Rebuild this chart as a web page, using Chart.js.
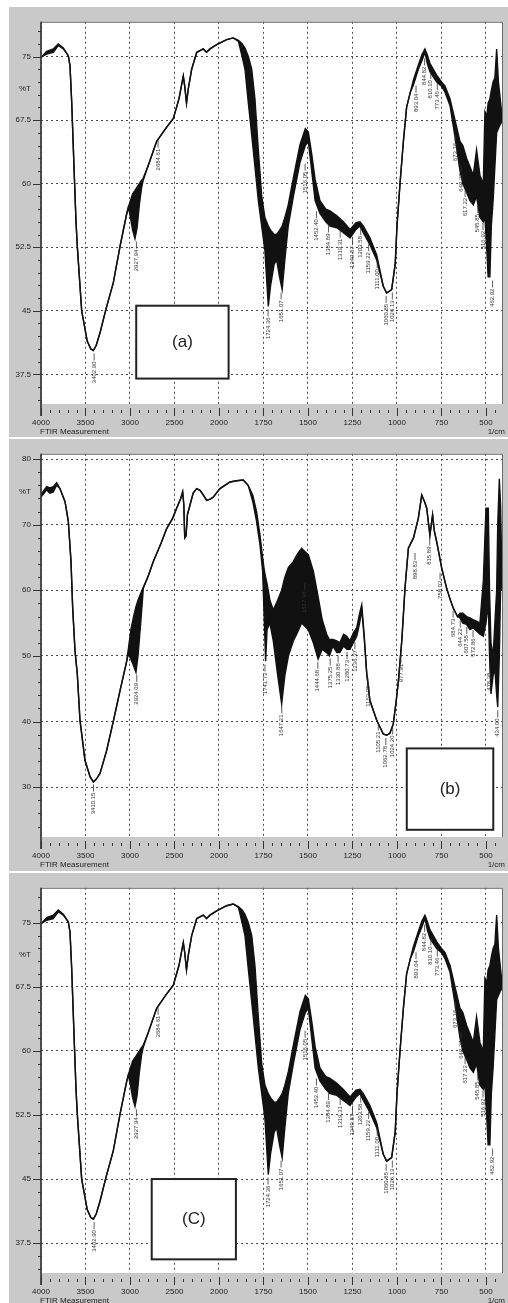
<!DOCTYPE html>
<html>
<head>
<meta charset="utf-8">
<script src="https://cdn.jsdelivr.net/npm/chart.js@4.4.1/dist/chart.umd.min.js"></script>
<style>
  html, body { margin: 0; padding: 0; background: #fff; }
  body { width: 508px; height: 1303px; position: relative; overflow: hidden; }
  canvas { position: absolute; left: 9px; background: #c9c9c9; }
  #ftirA { top: 7px; }
  #ftirB { top: 439px; }
  #ftirC { top: 873px; }
</style>
</head>
<body>
<canvas id="ftirA" width="499" height="430"></canvas>
<canvas id="ftirB" width="499" height="432"></canvas>
<canvas id="ftirC" width="499" height="430"></canvas>
<script>
// wavenumber axis: 4000-2000 at half scale, 2000-410 at full scale
const xTickWaves = [4000, 3500, 3000, 2500, 2000, 1750, 1500, 1250, 1000, 750, 500];

// spectrum (a) / (C): wavenumber, lower trace, upper trace (noise fills between)
const waveA = [4000, 3936, 3862, 3806, 3749, 3693, 3674, 3655, 3629, 3607, 3592, 3543, 3480, 3440, 3412, 3380, 3337, 3270, 3188, 3112, 3040,
  3019, 2995, 2970, 2944, 2920, 2895, 2870, 2854, 2800, 2700, 2600, 2513, 2450, 2401, 2385, 2365, 2345, 2307, 2250, 2176, 2140, 2101, 2026,
  1957, 1920, 1891, 1870, 1854, 1835, 1816, 1798, 1779, 1760, 1742, 1723, 1710, 1690, 1676, 1660, 1645, 1630, 1611, 1582, 1545, 1515,
  1498, 1479, 1460, 1433, 1400, 1376, 1338, 1301, 1264, 1230, 1208, 1189, 1152, 1114, 1077, 1058, 1030, 1010, 1000, 983, 964, 946, 925,
  908, 880, 860, 843, 830, 815, 777, 750, 730, 702, 674, 646, 630, 609, 590, 571, 553, 534, 515, 506, 495, 488, 478, 470, 460, 450, 440,
  430, 420, 410];
const lowA = [74.9, 75.3, 75.5, 76.3, 75.9, 75.1, 73.9, 69.6, 61.9, 55.6, 52.6, 45.0, 41.4, 40.5, 40.3, 40.9, 42.4, 45.2, 48.3, 52.6, 56.3,
  57.2, 56.0, 54.5, 53.5, 54.8, 57.5, 59.5, 60.3, 62.0, 65.0, 66.5, 67.7, 70.0, 72.7, 71.5, 69.5, 71.2, 73.5, 75.5, 75.9, 75.5, 75.9, 76.4,
  77.0, 77.2, 76.8, 75.0, 73.5, 69.5, 65.7, 62.0, 58.0, 55.0, 52.1, 45.5, 48.0, 50.5, 51.0, 49.0, 47.5, 51.0, 55.0, 58.5, 62.5, 64.5,
  65.0, 61.5, 58.0, 56.5, 55.5, 55.0, 54.8, 54.2, 53.6, 54.6, 55.0, 54.2, 52.8, 51.0, 47.9, 47.1, 47.5, 50.5, 55.0, 60.0, 65.0, 69.0, 70.8,
  71.6, 73.5, 74.5, 75.5, 74.2, 73.2, 72.0, 71.5, 70.8, 69.2, 65.5, 61.5, 60.0, 59.0, 58.0, 57.5, 58.5, 56.0, 55.5, 56.0, 52.0, 49.0, 49.0,
  55.0, 58.0, 62.0, 66.0, 66.5, 67.0, 67.3];
const highA = [74.9, 75.6, 75.9, 76.5, 76.0, 75.1, 73.9, 69.6, 61.9, 55.6, 52.6, 45.0, 41.4, 40.5, 40.3, 40.9, 42.4, 45.2, 48.3, 52.6, 56.3,
  57.2, 58.0, 58.8, 59.2, 59.6, 60.0, 60.4, 60.6, 62.0, 65.0, 66.5, 67.7, 70.0, 72.7, 71.5, 69.5, 71.2, 73.5, 75.5, 75.9, 75.5, 75.9, 76.4,
  77.0, 77.2, 76.9, 76.5, 76.0, 75.0, 73.5, 70.0, 64.0, 58.5, 56.0, 55.0, 54.5, 54.0, 54.0, 54.5, 55.0, 56.0, 57.5, 60.7, 64.6, 66.5,
  66.1, 63.5, 60.5, 58.0, 57.0, 56.8, 56.2, 55.5, 54.6, 55.4, 55.5, 55.0, 53.6, 51.6, 47.9, 47.1, 47.5, 50.5, 55.0, 60.0, 65.0, 69.0, 70.8,
  72.2, 74.0, 75.2, 75.9, 75.2, 74.2, 72.8, 72.0, 71.5, 70.0, 67.5, 65.0, 64.5, 63.0, 62.0, 61.0, 64.0, 61.0, 60.0, 68.5, 68.0, 69.5, 70.0,
  71.0, 72.0, 72.5, 75.9, 72.0, 70.0, 68.0];

// spectrum (b)
const waveB = [4000, 3936, 3900, 3862, 3824, 3787, 3730, 3693, 3663, 3644, 3618, 3592, 3562, 3506, 3449, 3412, 3380, 3337, 3262, 3188, 3112,
  3040, 3019, 2990, 2960, 2933, 2910, 2880, 2850, 2800, 2738, 2650, 2588, 2520, 2476, 2430, 2408, 2395, 2385, 2370, 2355, 2326, 2290, 2251,
  2210, 2176, 2138, 2100, 2064, 2030, 1994, 1938, 1900, 1864, 1836, 1810, 1789, 1770, 1755, 1745, 1738, 1730, 1714, 1695, 1670, 1648, 1630,
  1610, 1582, 1560, 1536, 1498, 1470, 1443, 1420, 1395, 1380, 1360, 1338, 1321, 1300, 1282, 1264, 1245, 1226, 1210, 1198, 1185, 1170, 1152,
  1114, 1077, 1058, 1040, 1021, 1005, 992, 973, 955, 936, 920, 908, 880, 861, 845, 833, 815, 800, 790, 777, 749, 721, 700, 684, 660, 646,
  630, 609, 590, 571, 553, 534, 515, 500, 487, 480, 472, 460, 450, 440, 434, 425, 418, 410];
const lowB = [74.2, 75.3, 74.8, 75.0, 76.0, 75.5, 73.5, 70.5, 64.4, 57.3, 50.8, 47.2, 40.2, 34.1, 31.6, 30.8, 31.2, 32.1, 35.6, 40.0, 44.7,
  49.0, 50.3, 49.5, 48.5, 47.5, 50.0, 55.0, 60.3, 62.0, 64.4, 67.2, 69.4, 71.0, 72.5, 74.0, 75.0, 73.0, 68.0, 68.3, 71.5, 73.0, 74.8, 75.5,
  75.2, 74.5, 73.7, 73.9, 74.2, 74.8, 75.5, 76.5, 76.7, 76.8, 76.0, 73.5, 70.5, 67.0, 63.0, 55.0, 49.2, 54.0, 55.0, 52.3, 47.0, 42.7, 47.0,
  50.0, 52.3, 53.5, 55.0, 54.0, 52.0, 49.5, 51.0, 50.5, 50.0, 51.5, 50.5, 50.5, 51.5, 51.0, 51.0, 52.0, 53.0, 55.0, 57.0, 53.0, 47.3, 43.2,
  40.2, 38.1, 37.9, 38.2, 39.6, 43.0, 46.2, 52.3, 60.3, 66.4, 67.3, 67.9, 71.0, 74.5, 73.5, 72.5, 68.4, 71.5, 69.0, 67.4, 63.4, 60.3, 58.5,
  57.3, 56.0, 55.8, 55.0, 54.8, 54.0, 54.3, 53.8, 53.3, 53.0, 55.0, 58.0, 50.0, 44.2, 47.0, 48.0, 44.0, 42.2, 50.0, 60.0, 60.0];
const highB = [74.6, 75.8, 75.6, 75.8, 76.4, 75.5, 73.5, 70.5, 64.4, 57.3, 50.8, 47.2, 40.2, 34.1, 31.6, 30.8, 31.2, 32.1, 35.6, 40.0, 44.7,
  49.0, 51.0, 54.0, 56.0, 57.5, 58.5, 59.5, 60.5, 62.0, 64.4, 67.2, 69.4, 71.0, 72.5, 74.0, 75.0, 73.0, 68.0, 68.3, 71.5, 73.0, 74.8, 75.5,
  75.2, 74.5, 73.7, 73.9, 74.2, 74.8, 75.5, 76.5, 76.7, 76.8, 76.0, 74.5, 72.0, 68.5, 65.0, 63.0, 62.0, 61.0, 58.5, 57.0, 58.5, 60.0, 62.0,
  63.5, 64.4, 65.5, 66.4, 65.4, 62.9, 59.0, 55.5, 53.3, 52.5, 52.5, 52.3, 52.0, 53.3, 53.0, 52.3, 53.5, 54.3, 56.5, 57.8, 53.5, 47.3, 43.2,
  40.2, 38.1, 37.9, 38.2, 39.6, 43.0, 46.2, 52.3, 60.3, 66.4, 67.3, 67.9, 71.0, 74.5, 73.5, 72.5, 68.4, 71.5, 69.0, 67.4, 63.4, 60.3, 58.5,
  57.3, 56.0, 56.5, 56.5, 56.0, 55.8, 55.5, 55.3, 55.0, 61.4, 72.5, 72.5, 60.0, 52.0, 50.0, 55.0, 60.0, 70.0, 77.0, 73.0, 62.0];

// peak picks: wavenumber (also the printed text) and %T where the leader starts
const peakWaveA = [3402.90, 2927.94, 2684.61, 1724.36, 1651.07, 1516.05, 1452.40, 1384.89, 1319.31, 1249.87, 1203.58, 1159.22, 1111.00,
  1060.85, 1026.13, 893.04, 844.82, 810.10, 773.46, 673.16, 640.37, 617.22, 545.85, 516.92, 462.92];
const peakLevelA = [40.2, 53.4, 65.3, 45.4, 47.4, 62.6, 57.0, 55.3, 54.7, 53.8, 55.0, 53.1, 51.1, 47.0, 47.4, 71.8, 75.0, 73.4, 72.1, 66.0,
  62.4, 59.5, 57.6, 55.6, 48.8];
const peakWaveB = [3410.15, 2924.09, 1741.72, 1647.21, 1517.98, 1444.68, 1375.25, 1330.88, 1280.73, 1236.37, 1163.08, 1105.21, 1062.78,
  1024.20, 977.91, 898.83, 815.89, 758.02, 684.73, 644.22, 607.58, 572.86, 478.35, 434.00];
const peakLevelB = [30.7, 47.4, 49.0, 42.6, 61.4, 49.4, 49.9, 50.4, 50.9, 52.4, 47.0, 40.0, 37.8, 39.4, 50.3, 66.0, 68.2, 63.0, 57.2,
  55.7, 54.7, 54.2, 49.0, 42.0];

const INK = '#111';
const GRID = '#4a4a4a';
const FONT = "'Liberation Sans', Arial, sans-serif";
const X_END = 1000 + (2000 - 410);

// 4000-2000 is drawn at half scale
function toAxis(w) { return w >= 2000 ? (4000 - w) / 2 : 1000 + (2000 - w); }
function toWave(u) { return u <= 1000 ? 4000 - 2 * u : 2000 - (u - 1000); }

function makeDecor(p) {
  return {
    id: 'ftirDecor',
    beforeDraw(chart) {
      const { ctx, chartArea: a } = chart;
      ctx.save();
      ctx.fillStyle = '#fff';
      ctx.fillRect(a.left, a.top, a.right - a.left, a.bottom - a.top);
      ctx.restore();
    },
    afterDatasetsDraw(chart) {
      const { ctx, chartArea: a } = chart;
      const xs = chart.scales.x, ys = chart.scales.y;
      ctx.save();

      // frame
      ctx.strokeStyle = '#6a6a6a';
      ctx.lineWidth = 1;
      ctx.beginPath();
      ctx.moveTo(a.left, a.bottom + 12);
      ctx.lineTo(a.left, a.top + 0.5);
      ctx.lineTo(a.right + 0.5, a.top + 0.5);
      ctx.lineTo(a.right + 0.5, a.bottom);
      ctx.stroke();
      ctx.strokeStyle = '#333';
      ctx.lineWidth = 1.5;
      ctx.beginPath();
      ctx.moveTo(a.left, a.top);
      ctx.lineTo(a.left, a.bottom + 12);
      ctx.stroke();

      // x tick marks, minor every 50 axis units
      ctx.strokeStyle = '#333';
      ctx.lineWidth = 1;
      for (let u = 0; u <= X_END; u += 50) {
        const px = Math.round(xs.getPixelForValue(u)) + 0.5;
        const major = u % 250 === 0;
        ctx.beginPath();
        ctx.moveTo(px, a.bottom + (major ? 4 : 6));
        ctx.lineTo(px, a.bottom + (major ? 12 : 9));
        ctx.stroke();
      }

      // y tick marks
      let v = p.yBase - p.yMinor * Math.floor((p.yBase - p.yMin) / p.yMinor);
      for (; v <= p.yMax + 1e-6; v += p.yMinor) {
        const k = (v - p.yBase) / p.yStep;
        const major = Math.abs(k - Math.round(k)) < 1e-6;
        const py = Math.round(ys.getPixelForValue(v)) + 0.5;
        ctx.beginPath();
        ctx.moveTo(a.left - (major ? 8 : 3), py);
        ctx.lineTo(a.left, py);
        ctx.stroke();
      }

      // peak picks
      ctx.fillStyle = '#333';
      ctx.strokeStyle = '#333';
      ctx.lineWidth = 0.8;
      ctx.font = '6px ' + FONT;
      ctx.textBaseline = 'middle';
      ctx.textAlign = 'right';
      p.peakWave.forEach((w, i) => {
        const px = xs.getPixelForValue(toAxis(w));
        const py = ys.getPixelForValue(p.peakLevel[i]) + 2;
        ctx.beginPath();
        ctx.moveTo(px, py);
        ctx.lineTo(px, py + 7);
        ctx.stroke();
        ctx.save();
        ctx.translate(px, py + 8);
        ctx.rotate(-Math.PI / 2);
        ctx.fillText(w.toFixed(2), 0, 0);
        ctx.restore();
      });

      // sample tag
      const bx1 = xs.getPixelForValue(toAxis(p.box.w1));
      const bx2 = xs.getPixelForValue(toAxis(p.box.w2));
      const by1 = ys.getPixelForValue(p.box.t1);
      const by2 = ys.getPixelForValue(p.box.t2);
      ctx.fillStyle = '#fff';
      ctx.fillRect(bx1, by1, bx2 - bx1, by2 - by1);
      ctx.strokeStyle = '#222';
      ctx.lineWidth = 2;
      ctx.strokeRect(bx1, by1, bx2 - bx1, by2 - by1);
      ctx.fillStyle = '#222';
      ctx.font = '17px ' + FONT;
      ctx.textAlign = 'center';
      ctx.textBaseline = 'middle';
      ctx.fillText(p.box.text, (bx1 + bx2) / 2, (by1 + by2) / 2);

      // captions
      ctx.font = '8px ' + FONT;
      ctx.fillStyle = '#222';
      ctx.textAlign = 'left';
      ctx.fillText('FTIR Measurement', a.left - 1, a.bottom + 28);
      ctx.textAlign = 'right';
      ctx.fillText('1/cm', a.right + 3, a.bottom + 28);
      ctx.restore();
    }
  };
}

function buildChart(id, p) {
  const low = p.wave.map((w, i) => ({ x: toAxis(w), y: p.low[i] }));
  const high = p.wave.map((w, i) => ({ x: toAxis(w), y: p.high[i] }));
  return new Chart(document.getElementById(id), {
    type: 'line',
    data: {
      datasets: [
        { data: low, borderColor: INK, borderWidth: 1.4, pointRadius: 0, tension: 0, fill: false },
        { data: high, borderColor: INK, borderWidth: 1.4, pointRadius: 0, tension: 0, fill: '-1', backgroundColor: INK }
      ]
    },
    options: {
      responsive: false,
      animation: false,
      events: [],
      layout: { padding: { top: p.padTop, right: 6, bottom: 0, left: 0 } },
      plugins: { legend: { display: false }, tooltip: { enabled: false } },
      scales: {
        x: {
          type: 'linear',
          min: 0,
          max: X_END,
          afterBuildTicks: s => { s.ticks = xTickWaves.map(w => ({ value: toAxis(w) })); },
          afterFit: s => { s.height = p.xAxisH; },
          grid: { color: GRID, lineWidth: 1, drawTicks: false },
          border: { display: false, dash: [2, 3] },
          ticks: {
            font: { family: FONT, size: 8 }, color: '#222', padding: 14,
            maxRotation: 0, autoSkip: false,
            callback: v => String(toWave(v))
          }
        },
        y: {
          min: p.yMin,
          max: p.yMax,
          afterBuildTicks: s => { s.ticks = p.yTicks.map(v => ({ value: v })); },
          afterFit: s => { s.width = 32; },
          grid: {
            color: c => (c.tick && c.tick.value === p.unitTick ? 'rgba(0,0,0,0)' : GRID),
            lineWidth: 1, drawTicks: false
          },
          border: { display: false, dash: [2, 3] },
          ticks: {
            font: { family: FONT, size: 8 }, color: '#222', padding: 10,
            callback: v => (v === p.unitTick ? '%T' : String(v))
          }
        }
      }
    },
    plugins: [makeDecor(p)]
  });
}

const scaleAC = {
  yMin: 34, yMax: 79.1, yTicks: [37.5, 45, 52.5, 60, 67.5, 71.25, 75], unitTick: 71.25,
  yBase: 37.5, yStep: 7.5, yMinor: 1.5,
  wave: waveA, low: lowA, high: highA, peakWave: peakWaveA, peakLevel: peakLevelA
};

buildChart('ftirA', Object.assign({}, scaleAC, {
  padTop: 12, xAxisH: 33,
  box: { w1: 2930, w2: 1946, t1: 45.6, t2: 37.0, text: '(a)' }
}));

buildChart('ftirB', {
  padTop: 13, xAxisH: 34,
  yMin: 22.4, yMax: 80.8, yTicks: [30, 40, 50, 60, 70, 75, 80], unitTick: 75,
  yBase: 30, yStep: 10, yMinor: 2,
  wave: waveB, low: lowB, high: highB, peakWave: peakWaveB, peakLevel: peakLevelB,
  box: { w1: 945, w2: 459, t1: 35.9, t2: 23.5, text: '(b)' }
});

buildChart('ftirC', Object.assign({}, scaleAC, {
  padTop: 12, xAxisH: 30,
  box: { w1: 2756, w2: 1905, t1: 45.0, t2: 35.6, text: '(C)' }
}));
</script>
</body>
</html>
